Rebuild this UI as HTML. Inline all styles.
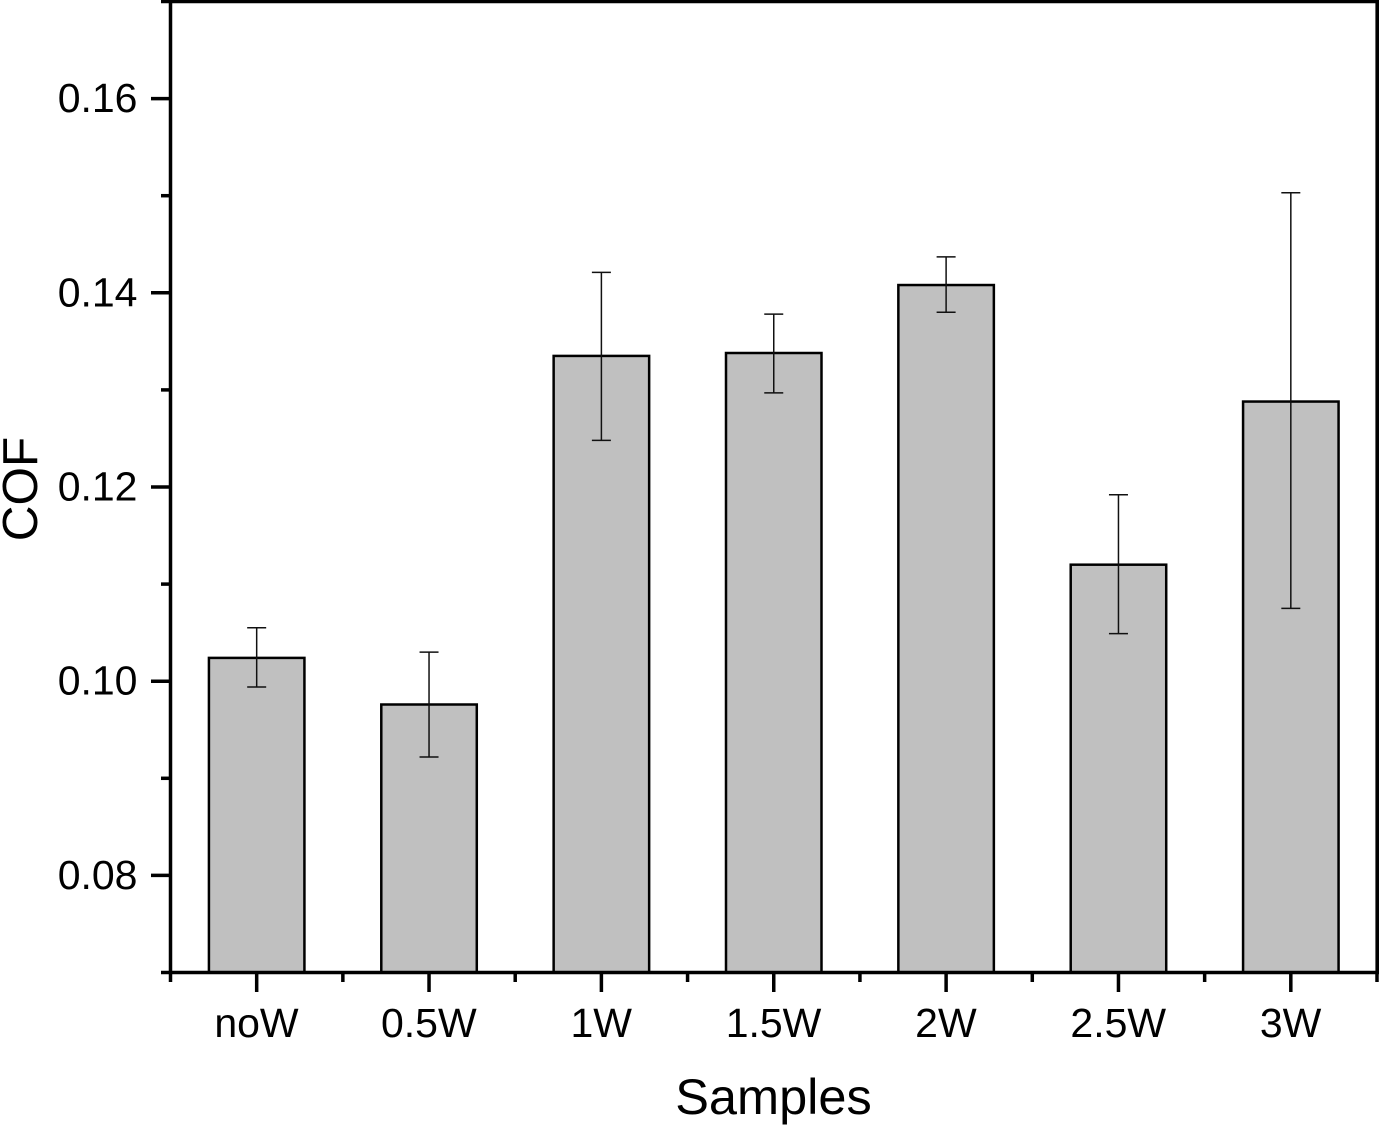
<!DOCTYPE html>
<html>
<head>
<meta charset="utf-8">
<title>COF by sample</title>
<style>
html,body{margin:0;padding:0;background:#fff;width:1379px;height:1125px;overflow:hidden}
svg{display:block}
text{font-family:"Liberation Sans",sans-serif;fill:#000}
</style>
</head>
<body>
<svg id="chart" xmlns="http://www.w3.org/2000/svg" width="1379" height="1125" viewBox="0 0 1379 1125">
<rect width="1379" height="1125" fill="#fff"/>
<text x="773.5" y="1114" font-size="50.5" text-anchor="middle">Samples</text>
<text transform="translate(37,489) rotate(-90)" font-size="49.5" text-anchor="middle">COF</text>
</svg>
<script>
const categories = ['noW', '0.5W', '1W', '1.5W', '2W', '2.5W', '3W'];
const meanValues = [0.1024, 0.0976, 0.1335, 0.1338, 0.1408, 0.1120, 0.1288];
const errorUpper = [0.1055, 0.1030, 0.1421, 0.1378, 0.1437, 0.1192, 0.1503];
const errorLower = [0.0994, 0.0922, 0.1248, 0.1297, 0.1380, 0.1049, 0.1075];
const yMajorTicks = [0.08, 0.10, 0.12, 0.14, 0.16];
const yMinorTicks = [0.07, 0.09, 0.11, 0.13, 0.15, 0.17];

const svg = document.getElementById('chart');
const NS = 'http://www.w3.org/2000/svg';
const plotLeft = 170.5, plotRight = 1377, plotTop = 1.5, plotBottom = 972.5;
const yMin = 0.07, yMax = 0.17;
const barWidth = 95.5;

function yScale(v) {
  return plotBottom - (v - yMin) / (yMax - yMin) * (plotBottom - plotTop);
}
function xScale(i) {
  return plotLeft + (i + 0.5) * (plotRight - plotLeft) / categories.length;
}
function make(tag, attrs) {
  const el = document.createElementNS(NS, tag);
  for (const k in attrs) el.setAttribute(k, attrs[k]);
  svg.appendChild(el);
  return el;
}
function line(x1, y1, x2, y2, color, width) {
  return make('line', {x1: x1, y1: y1, x2: x2, y2: y2, stroke: color, 'stroke-width': width});
}

categories.forEach(function (c, i) {
  const x = xScale(i);
  const top = yScale(meanValues[i]);
  const bar = make('rect', {x: x - barWidth / 2, y: top, width: barWidth, height: plotBottom - top, fill: '#c0c0c0', stroke: '#000', 'stroke-width': 2.5});
  
  

  const up = yScale(errorUpper[i]);
  const lo = yScale(errorLower[i]);
  const stem = line(x, up, x, lo, '#111', 1.5);
  
  
  const capTop = line(x - 9.5, up, x + 9.5, up, '#111', 1.5);
  
  
  const capBottom = line(x - 9.5, lo, x + 9.5, lo, '#111', 1.5);
  
  

  const tick = line(x, plotBottom, x, 992, '#000', 3.5);
  
  

  const label = make('text', {x: x - 0.2, y: 1037, 'font-size': 41, 'text-anchor': 'middle'});
  label.textContent = c;
  
  
});

for (let i = 0; i <= categories.length; i++) {
  const px = plotLeft + i * (plotRight - plotLeft) / categories.length;
  const minor = line(px, plotBottom, px, 982, '#000', 3.5);
  
  
}

yMajorTicks.forEach(function (v) {
  const y = yScale(v);
  const tick = line(151, y, plotLeft, y, '#000', 3.5);
  
  
  const label = make('text', {x: 137.5, y: y + 13.5, 'font-size': 41, 'text-anchor': 'end'});
  label.textContent = v.toFixed(2);
  
  
});

yMinorTicks.forEach(function (v) {
  const y = yScale(v);
  const minor = line(161, y, plotLeft, y, '#000', 3.5);
  
  
});

const leftSpine = line(plotLeft, 0, plotLeft, plotBottom + 1.5, '#000', 3.5);


const rightSpine = line(1377.2, 0, 1377.2, plotBottom + 1.5, '#000', 3.6);


const topSpine = line(plotLeft, plotTop, 1379, plotTop, '#000', 3.5);


const bottomSpine = line(plotLeft, plotBottom, 1379, plotBottom, '#000', 3.5);


</script>
</body>
</html>
